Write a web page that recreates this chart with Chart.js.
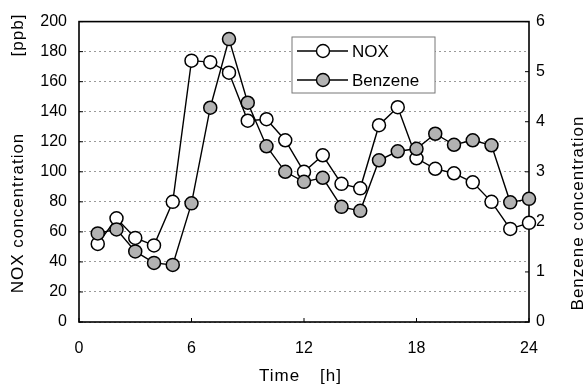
<!DOCTYPE html>
<html>
<head>
<meta charset="utf-8">
<script src="https://cdn.jsdelivr.net/npm/chart.js@4/dist/chart.umd.min.js"></script>
<style>
  body { margin: 0; background: #fff; }
  canvas { display: block; }
</style>
</head>
<body>
<canvas id="airChart" width="588" height="387"></canvas>
<script>
var hours = [1, 2, 3, 4, 5, 6, 7, 8, 9, 10, 11, 12, 13, 14, 15, 16, 17, 18, 19, 20, 21, 22, 23, 24];
var noxValues = [52, 69, 56, 51, 80, 174, 173, 166, 134, 135, 121, 100, 111, 92, 89, 131, 143, 109, 102, 99, 93, 80, 62, 66];
var benzeneValues = [1.77, 1.85, 1.41, 1.18, 1.14, 2.37, 4.28, 5.65, 4.38, 3.51, 3.00, 2.80, 2.88, 2.30, 2.22, 3.23, 3.41, 3.46, 3.76, 3.54, 3.63, 3.53, 2.39, 2.46];
var seriesNames = ['NOX', 'Benzene'];
var timeTicks = [0, 6, 12, 18, 24];

var FONT = '"Liberation Sans", Arial, sans-serif';
var GRAY_FILL = '#b2b2b2';

function toPoints(values) {
    var pts = [];
    for (var i = 0; i < hours.length; i++) {
        pts.push({ x: hours[i], y: values[i] });
    }
    return pts;
}

function drawRotated(ctx, text, x, y) {
    ctx.save();
    ctx.translate(x, y);
    ctx.rotate(-Math.PI / 2);
    ctx.textAlign = 'center';
    ctx.textBaseline = 'middle';
    ctx.fillText(text, 0, 0);
    ctx.restore();
}

// frame + little inward tick marks, under the points
var framePlugin = {
    id: 'frame',
    beforeDatasetsDraw: function(chart) {
        var ctx = chart.ctx, a = chart.chartArea;
        var sx = chart.scales.x, sy = chart.scales.y, sy1 = chart.scales.y1;
        ctx.save();
        ctx.strokeStyle = '#000';
        ctx.lineWidth = 1;
        ctx.beginPath();
        sy.ticks.forEach(function(t) {
            var p = sy.getPixelForValue(t.value);
            ctx.moveTo(a.left, p); ctx.lineTo(a.left + 4, p);
        });
        sy1.ticks.forEach(function(t) {
            var p = sy1.getPixelForValue(t.value);
            ctx.moveTo(a.right, p); ctx.lineTo(a.right - 4, p);
        });
        sx.ticks.forEach(function(t) {
            var p = sx.getPixelForValue(t.value);
            ctx.moveTo(p, a.bottom); ctx.lineTo(p, a.bottom - 4);
        });
        ctx.stroke();
        ctx.lineWidth = 1.6;
        ctx.strokeRect(a.left, a.top, a.right - a.left, a.bottom - a.top);
        ctx.restore();
    },
    afterDraw: function(chart) {
        var ctx = chart.ctx;
        ctx.save();
        ctx.fillStyle = '#000';
        ctx.font = '17px ' + FONT;
        ctx.letterSpacing = '1px';
        drawRotated(ctx, 'NOX concentration', 18, 213);
        drawRotated(ctx, '[ppb]', 18, 35);
        drawRotated(ctx, 'Benzene concentration', 578, 213);
        ctx.textAlign = 'left';
        ctx.textBaseline = 'middle';
        ctx.fillText('Time', 259, 376);
        ctx.fillText('[h]', 320, 376);
        ctx.restore();
    }
};

// legend box inside the plot
var legendPlugin = {
    id: 'boxLegend',
    afterDraw: function(chart) {
        var ctx = chart.ctx;
        var x0 = 292, y0 = 37, w = 143, h = 56;
        ctx.save();
        ctx.fillStyle = '#fff';
        ctx.fillRect(x0, y0, w, h);
        ctx.strokeStyle = '#777';
        ctx.lineWidth = 1;
        ctx.strokeRect(x0, y0, w, h);
        var rows = [51, 80];
        var fills = ['#fff', GRAY_FILL];
        for (var i = 0; i < rows.length; i++) {
            var y = rows[i];
            ctx.strokeStyle = '#000';
            ctx.lineWidth = 1.4;
            ctx.beginPath();
            ctx.moveTo(297, y); ctx.lineTo(348, y);
            ctx.stroke();
            ctx.beginPath();
            ctx.arc(323, y, 6.5, 0, Math.PI * 2);
            ctx.fillStyle = fills[i];
            ctx.fill();
            ctx.stroke();
            ctx.fillStyle = '#000';
            ctx.font = '17px ' + FONT;
            ctx.textAlign = 'left';
            ctx.textBaseline = 'middle';
            ctx.fillText(seriesNames[i], 352, y + 1);
        }
        ctx.restore();
    }
};

var ctx = document.getElementById('airChart').getContext('2d');
var chart = new Chart(ctx, {
    type: 'line',
    data: {
        datasets: [{
            label: seriesNames[0],
            data: toPoints(noxValues),
            yAxisID: 'y',
            order: 2,
            borderColor: '#000',
            borderWidth: 1.4,
            pointRadius: 6.5,
            pointBorderWidth: 1.5,
            pointBackgroundColor: '#fff',
            pointBorderColor: '#000',
            tension: 0,
            clip: false
        }, {
            label: seriesNames[1],
            data: toPoints(benzeneValues),
            yAxisID: 'y1',
            order: 1,
            borderColor: '#000',
            borderWidth: 1.4,
            pointRadius: 6.5,
            pointBorderWidth: 1.5,
            pointBackgroundColor: GRAY_FILL,
            pointBorderColor: '#000',
            tension: 0,
            clip: false
        }]
    },
    options: {
        responsive: false,
        animation: false,
        layout: { padding: { top: 18, left: 0, right: 0, bottom: 0 } },
        plugins: {
            legend: { display: false },
            tooltip: { enabled: false }
        },
        scales: {
            x: {
                type: 'linear',
                min: 0,
                max: 24,
                afterBuildTicks: function(scale) {
                    scale.ticks = timeTicks.map(function(v) { return { value: v }; });
                },
                ticks: { font: { size: 16, family: FONT }, color: '#000', padding: 17, maxRotation: 0 },
                grid: { display: false, drawTicks: false },
                border: { display: false },
                afterFit: function(scale) { scale.height = 65; }
            },
            y: {
                position: 'left',
                min: 0,
                max: 200,
                ticks: { stepSize: 20, font: { size: 16, family: FONT }, color: '#000', padding: 12 },
                grid: { color: '#9a9a9a', lineWidth: 1, drawTicks: false },
                border: { display: false, dash: [2, 3] },
                afterFit: function(scale) { scale.width = 79; }
            },
            y1: {
                position: 'right',
                min: 0,
                max: 6,
                ticks: { stepSize: 1, font: { size: 16, family: FONT }, color: '#000', padding: 7 },
                grid: { display: false, drawTicks: false },
                border: { display: false },
                afterFit: function(scale) { scale.width = 59; }
            }
        }
    },
    plugins: [framePlugin, legendPlugin]
});
</script>
</body>
</html>
